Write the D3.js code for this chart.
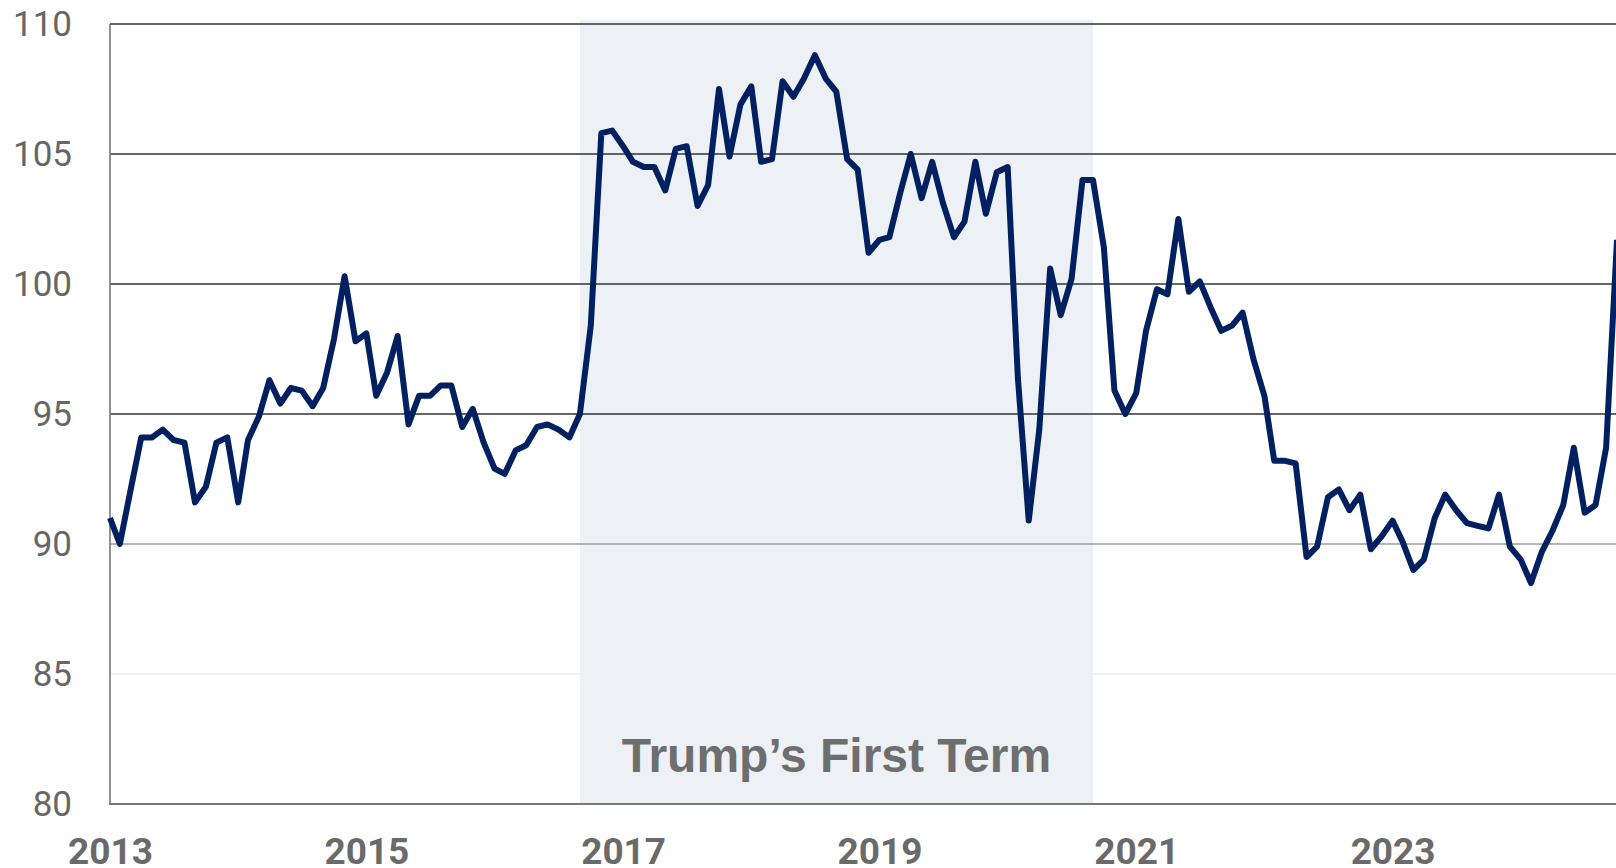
<!DOCTYPE html>
<html>
<head>
<meta charset="utf-8">
<script src="https://cdn.jsdelivr.net/npm/d3@7"></script>
<style>
  body { margin: 0; background: #fff; }
  svg { display: block; }
</style>
</head>
<body>
<div id="chart"></div>
<script>
// monthly index values, Feb 2013 .. Nov 2024
var firstMonth = new Date(2013, 1, 1);
var values = [
  91.0, 90.0, 92.1, 94.1, 94.1, 94.4, 94.0, 93.9, 91.6, 92.2, 93.9,          // 2013
  94.1, 91.6, 94.0, 94.9, 96.3, 95.4, 96.0, 95.9, 95.3, 96.0, 97.9, 100.3,  // 2014
  97.8, 98.1, 95.7, 96.6, 98.0, 94.6, 95.7, 95.7, 96.1, 96.1, 94.5, 95.2,   // 2015
  93.9, 92.9, 92.7, 93.6, 93.8, 94.5, 94.6, 94.4, 94.1, 95.0, 98.4, 105.8,  // 2016
  105.9, 105.3, 104.7, 104.5, 104.5, 103.6, 105.2, 105.3, 103.0, 103.8, 107.5, 104.9, // 2017
  106.9, 107.6, 104.7, 104.8, 107.8, 107.2, 107.9, 108.8, 107.9, 107.4, 104.8, 104.4, // 2018
  101.2, 101.7, 101.8, 103.5, 105.0, 103.3, 104.7, 103.1, 101.8, 102.4, 104.7, 102.7, // 2019
  104.3, 104.5, 96.4, 90.9, 94.4, 100.6, 98.8, 100.2, 104.0, 104.0, 101.4, 95.9,      // 2020
  95.0, 95.8, 98.2, 99.8, 99.6, 102.5, 99.7, 100.1, 99.1, 98.2, 98.4, 98.9,  // 2021
  97.1, 95.7, 93.2, 93.2, 93.1, 89.5, 89.9, 91.8, 92.1, 91.3, 91.9, 89.8,   // 2022
  90.3, 90.9, 90.1, 89.0, 89.4, 91.0, 91.9, 91.3, 90.8, 90.7, 90.6, 91.9,   // 2023
  89.9, 89.4, 88.5, 89.7, 90.5, 91.5, 93.7, 91.2, 91.5, 93.7, 101.7         // 2024
];
var yTicks = [80, 85, 90, 95, 100, 105, 110];
var xTickYears = [2013, 2015, 2017, 2019, 2021, 2023];
var termStart = new Date(2016, 9, 1);
var termEnd = new Date(2020, 9, 1);
var termLabel = "Trump\u2019s First Term";

var data = values.map(function (v, i) {
  return { date: d3.timeMonth.offset(firstMonth, i), value: v };
});

var W = 1616, H = 868;
var plot = { left: 110, right: 1617, top: 24, bottom: 804 };

var svg = d3.select("#chart")
  .append("svg")
  .attr("width", W)
  .attr("height", H);

var x = d3.scaleTime()
  .domain([data[0].date, data[data.length - 1].date])
  .range([plot.left, plot.right]);

var y = d3.scaleLinear()
  .domain([80, 110])
  .range([plot.bottom, plot.top]);

// shaded first term band
svg.append("rect")
  .attr("x", x(termStart))
  .attr("y", 20)
  .attr("width", x(termEnd) - x(termStart))
  .attr("height", plot.bottom - 20)
  .attr("fill", "#edf1f5");

// gridlines (they fade toward the bottom in the original)
var gridColor = { 110: "#333", 105: "#333", 100: "#333", 95: "#333", 90: "#9c9c9c", 85: "#eeeeee" };
svg.append("g")
  .selectAll("line")
  .data(yTicks.filter(function (d) { return d > 80; }))
  .enter()
  .append("line")
  .attr("x1", plot.left)
  .attr("x2", W)
  .attr("y1", function (d) { return y(d); })
  .attr("y2", function (d) { return y(d); })
  .attr("stroke", function (d) { return gridColor[d]; })
  .attr("stroke-width", 1.3);

// y labels
var yAxis = svg.append("g")
  .attr("transform", "translate(" + plot.left + ",0)")
  .call(d3.axisLeft(y).tickValues(yTicks).tickSize(0).tickPadding(38));
yAxis.select(".domain").remove();
yAxis.selectAll("text")
  .attr("fill", "#666")
  .style("font-family", "Roboto, sans-serif")
  .style("font-size", "35px");

// x labels
var xAxis = svg.append("g")
  .attr("transform", "translate(0," + plot.bottom + ")")
  .call(d3.axisBottom(x)
    .tickValues(xTickYears.map(function (yr) { return new Date(yr, 1, 1); }))
    .tickFormat(d3.timeFormat("%Y"))
    .tickSize(0)
    .tickPadding(34));
xAxis.select(".domain").remove();
xAxis.selectAll("text")
  .attr("fill", "#6a6a6a")
  .style("font-family", "Roboto, sans-serif")
  .style("font-weight", "bold")
  .style("font-size", "37px");

// axis lines
svg.append("line")
  .attr("x1", plot.left).attr("x2", plot.left)
  .attr("y1", plot.top).attr("y2", plot.bottom)
  .attr("stroke", "#777").attr("stroke-width", 1.6);
svg.append("line")
  .attr("x1", plot.left - 1).attr("x2", W)
  .attr("y1", plot.bottom).attr("y2", plot.bottom)
  .attr("stroke", "#777").attr("stroke-width", 2);

// the series
svg.append("path")
  .datum(data)
  .attr("fill", "none")
  .attr("stroke", "#002060")
  .attr("stroke-width", 6)
  .attr("stroke-linejoin", "round")
  .attr("d", d3.line()
    .x(function (d) { return x(d.date); })
    .y(function (d) { return y(d.value); }));

// band label
svg.append("text")
  .attr("x", (x(termStart) + x(termEnd)) / 2)
  .attr("y", 772)
  .attr("text-anchor", "middle")
  .attr("fill", "#6e6e6e")
  .style("font-family", "'Liberation Sans', Arial, sans-serif")
  .style("font-weight", "bold")
  .style("font-size", "48px")
  .text(termLabel);
</script>
</body>
</html>
